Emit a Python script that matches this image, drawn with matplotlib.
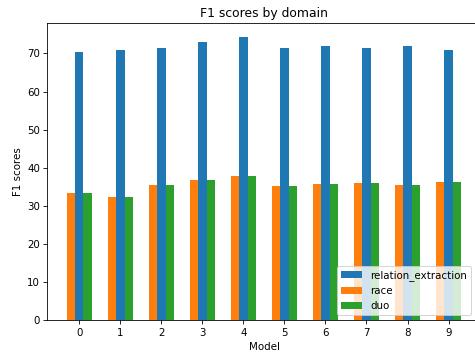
import numpy as np
import matplotlib
matplotlib.use("Agg")
import matplotlib.pyplot as plt

models = list(range(10))
relation_extraction = [70.3, 70.8, 71.5, 73.1, 74.2, 71.5, 71.9, 71.5, 71.9, 71.0]
race = [33.3, 32.4, 35.5, 36.8, 37.8, 35.2, 35.8, 36.1, 35.4, 36.2]
duo = [33.3, 32.4, 35.5, 36.8, 37.8, 35.2, 35.8, 36.1, 35.4, 36.2]

x = np.arange(len(models))
width = 0.2

dpi = 475 / 6.4
fig = plt.figure(figsize=(6.4, 356 / dpi), dpi=dpi)
ax = fig.add_axes([0.0998, 0.1, 0.9118, 0.8346])
ax.bar(x, relation_extraction, width, label="relation_extraction")
ax.bar(x - width, race, width, label="race")
ax.bar(x + width, duo, width, label="duo")

ax.set_ylabel("F1 scores")
ax.set_xlabel("Model")
ax.set_title("F1 scores by domain")
ax.set_xticks(x)
ax.set_xticklabels(models)
ax.legend(loc="lower right", bbox_to_anchor=(0.99, 0.0))

fig.savefig("out.png", dpi=dpi)
